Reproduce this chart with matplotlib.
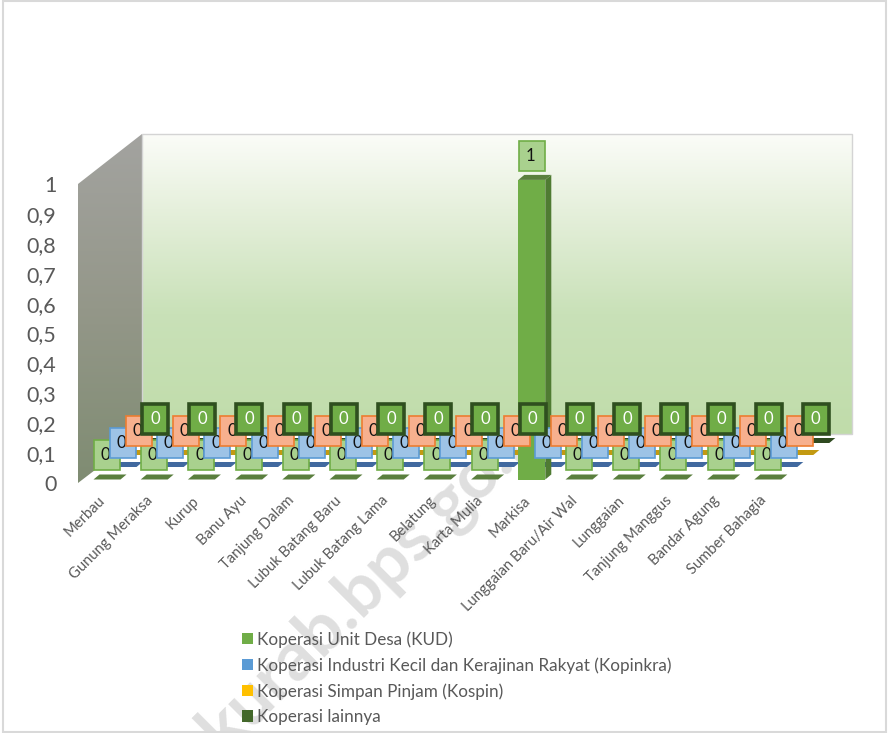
import numpy as np
from matplotlib import pyplot as plt
from matplotlib.colors import LinearSegmentedColormap
from matplotlib.patches import Polygon, Rectangle
from matplotlib.transforms import Affine2D

categories = ['Merbau', 'Gunung Meraksa', 'Kurup', 'Banu Ayu', 'Tanjung Dalam',
              'Lubuk Batang Baru', 'Lubuk Batang Lama', 'Belatung', 'Karta Mulia', 'Markisa',
              'Lunggaian Baru/Air Wal', 'Lunggaian', 'Tanjung Manggus', 'Bandar Agung',
              'Sumber Bahagia']
kud = [0, 0, 0, 0, 0, 0, 0, 0, 0, 1, 0, 0, 0, 0, 0]
kopinkra = [0] * 15
kospin = [0] * 15
lainnya = [0] * 15

series_names = ['Koperasi Unit Desa (KUD)',
                'Koperasi Industri Kecil dan Kerajinan Rakyat (Kopinkra)',
                'Koperasi Simpan Pinjam (Kospin)',
                'Koperasi lainnya']
series_values = [kud, kopinkra, kospin, lainnya]
y_ticks = [0, 0.1, 0.2, 0.3, 0.4, 0.5, 0.6, 0.7, 0.8, 0.9, 1]

W, H = 888, 733
STEP = 47.2      # px per category
UNIT = 299.0     # px per 1.0 on the value axis
X0 = 107         # px of the first category, front series
Y0 = 483         # px of value 0

bar_colors = ['#70ad47', '#5b9bd5', '#ffc000', '#43682b']
floor_colors = ['#5a7f3e', '#41699f', '#c39a12', '#2f4a20']
box_faces = ['#a9d18e', '#9dc3e6', '#f7b08e', '#70ad47']
box_edges = ['#70ad47', '#5b9bd5', '#ed7d31', '#2f4f1f']
text_colors = ['#111111', '#111111', '#111111', '#ffffff']
grey = '#595959'

plt.rcParams['font.family'] = ['Lato', 'DejaVu Sans']

fig = plt.figure(figsize=(W / 100, H / 100), dpi=100)
ax = fig.add_axes([78 / W, 1 - Y0 / H, (852 - 78) / W, UNIT / H])
ax.patch.set_visible(False)
for sp in ax.spines.values():
    sp.set_visible(False)


def xd(px):
    return (px - X0) / STEP


def yd(py):
    return (Y0 - py) / UNIT


# watermark sits behind the chart
ax.text(xd(377), yd(575), 'kurab.bps.go.id', rotation=45, ha='center', va='center',
        fontsize=50, fontweight='bold', color='#dfdfdf', zorder=0, clip_on=False)

# back wall and side wall
back_cmap = LinearSegmentedColormap.from_list(
    'back', [(0, '#fbfcf8'), (0.25, '#e6f0dc'), (0.6, '#c9e1b8'), (1, '#c0dcaa')])
side_cmap = LinearSegmentedColormap.from_list('side', ['#a3a3a0', '#949789', '#7f8c72'])
grad = np.linspace(0, 1, 256).reshape(-1, 1)
ax.imshow(grad, cmap=back_cmap, aspect='auto', zorder=1, origin='upper',
          extent=(xd(142), xd(852), yd(434), yd(134)), clip_on=False)
side = ax.imshow(grad, cmap=side_cmap, aspect='auto', zorder=1, origin='upper',
                 extent=(xd(78), xd(142), yd(483), yd(134)))
side_poly = Polygon([(xd(78), yd(184)), (xd(142), yd(134)), (xd(142), yd(434)), (xd(78), yd(483))],
                    closed=True, transform=ax.transData, facecolor='none', edgecolor='none')
ax.add_patch(side_poly)
side.set_clip_path(side_poly)
side.set_clip_box(fig.bbox)
ax.add_patch(Rectangle((xd(142), yd(434)), (852 - 142) / STEP, 300 / UNIT, fill=False,
                       edgecolor='#d4d4d4', lw=1, zorder=1.5, clip_on=False))

# each series stands on its own depth plane: shift in px, floor line in px
plane_dx = [0, 16, 32, 48]
plane_floor = [479.5, 467, 455, 443]
plane_scale = [1.002, 1, 1, 1]

bar_w = 27 / STEP
depth_x = 6 / STEP
depth_y = 5 / UNIT
box_w = 26 / STEP
box_h = 30 / UNIT
box_gap = 9 / UNIT
x = np.arange(len(categories))

for s in range(3, -1, -1):
    plane = Affine2D().scale(1, plane_scale[s]).translate(plane_dx[s] / STEP, yd(plane_floor[s])) + ax.transData
    z = 5 - s * 0.1
    ax.bar(x, series_values[s], width=bar_w, color=bar_colors[s], label=series_names[s],
           transform=plane, zorder=z + 0.02, clip_on=False)
    for i, v in zip(x, series_values[s]):
        l, r = i - bar_w / 2, i + bar_w / 2
        # floor / top face
        ax.add_patch(Polygon([(l, v), (l + depth_x, v + depth_y), (r + depth_x, v + depth_y), (r, v)],
                             facecolor=floor_colors[s], edgecolor='none', transform=plane,
                             zorder=z, clip_on=False))
        if v > 0:
            ax.add_patch(Polygon([(r, 0), (r + depth_x, depth_y), (r + depth_x, v + depth_y), (r, v)],
                                 facecolor='#4f7b32', edgecolor='none', transform=plane,
                                 zorder=z + 0.01, clip_on=False))
        # data label
        ax.add_patch(Rectangle((i - box_w / 2, v + box_gap), box_w, box_h, facecolor=box_faces[s],
                               edgecolor=box_edges[s], lw=2.6 if s == 3 else 1.2, transform=plane,
                               zorder=10 + s, clip_on=False))
        nudge = 0 if s == 3 else -1.5 / STEP
        ax.text(i + nudge, v + box_gap + box_h / 2, str(v), color=text_colors[s], fontsize=12,
                ha='center', va='center', transform=plane, zorder=10.5 + s, clip_on=False)

ax.set_xlim(xd(78), xd(852))
ax.set_ylim(0, 1)
ax.set_yticks(y_ticks)
ax.set_yticklabels([('%g' % t).replace('.', ',') for t in y_ticks], fontsize=15.5, color=grey)
ax.set_xticks(x)
ax.set_xticklabels(categories, rotation=45, ha='right', rotation_mode='anchor',
                   fontsize=10.6, color=grey)
ax.tick_params(axis='y', length=0, pad=15.5)
ax.tick_params(axis='x', length=0, pad=7.5)
for lab in ax.get_xticklabels():
    lab.set_transform(lab.get_transform() + Affine2D().translate(-9, 0))

handles, labels = ax.get_legend_handles_labels()
order = [labels.index(n) for n in series_names]
ax.legend([handles[k] for k in order], [labels[k] for k in order], frameon=False,
          loc='upper left', bbox_to_anchor=(237 / W, 1 - 626 / H), bbox_transform=fig.transFigure,
          fontsize=12.3, labelcolor=grey, ncol=1, labelspacing=0.55, handlelength=0.65,
          handleheight=0.65, handletextpad=0.2, borderpad=0.3, borderaxespad=0)

fig.add_artist(Rectangle((3 / W, 1 / H), (W - 5) / W, (H - 1.5) / H, fill=False, edgecolor='#d9d9d9',
                         lw=1.5, transform=fig.transFigure))

fig.savefig('out.png', dpi=100)
